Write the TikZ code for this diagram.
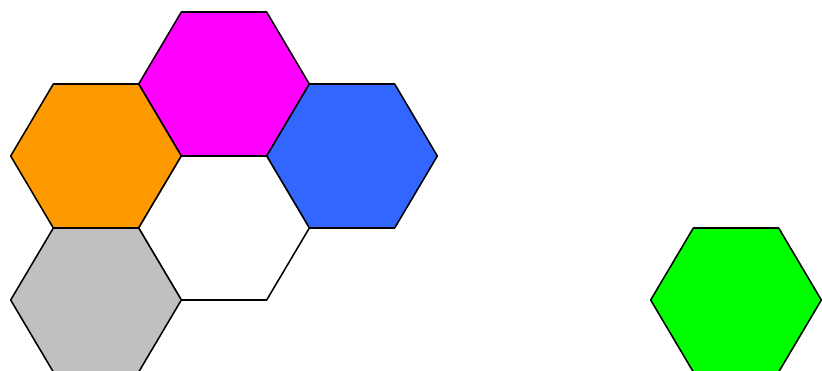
\documentclass[tikz,border=0pt]{standalone}
\usepackage{tikz}

\definecolor{hexorange}{HTML}{FF9900}
\definecolor{hexmagenta}{HTML}{FF00FF}
\definecolor{hexblue}{HTML}{3366FF}
\definecolor{hexgray}{HTML}{C0C0C0}
\definecolor{hexgreen}{HTML}{00FF00}

\begin{document}
\begin{tikzpicture}[x=0.025cm, y=-0.025cm, line join=round]

\useasboundingbox (0,0) rectangle (822,370);
\clip (0,0) rectangle (822,370);

\filldraw[line width=1.1pt, fill=hexmagenta] (138.67,84) -- ++(42.67,-72) -- ++(85.33,0) -- ++(42.67,72) -- ++(-42.67,72) -- ++(-85.33,0) -- cycle;
\filldraw[line width=1.1pt, fill=hexorange] (10.67,156) -- ++(42.67,-72) -- ++(85.33,0) -- ++(42.67,72) -- ++(-42.67,72) -- ++(-85.33,0) -- cycle;
\filldraw[line width=1.1pt, fill=hexblue] (266.67,156) -- ++(42.67,-72) -- ++(85.33,0) -- ++(42.67,72) -- ++(-42.67,72) -- ++(-85.33,0) -- cycle;
\filldraw[line width=1.1pt, fill=white] (138.67,228) -- ++(42.67,-72) -- ++(85.33,0) -- ++(42.67,72) -- ++(-42.67,72) -- ++(-85.33,0) -- cycle;
\filldraw[line width=1.1pt, fill=hexgray] (10.67,300) -- ++(42.67,-72) -- ++(85.33,0) -- ++(42.67,72) -- ++(-42.67,72) -- ++(-85.33,0) -- cycle;
\filldraw[line width=1.1pt, fill=hexgreen] (650.67,300) -- ++(42.67,-72) -- ++(85.33,0) -- ++(42.67,72) -- ++(-42.67,72) -- ++(-85.33,0) -- cycle;

\end{tikzpicture}
\end{document}
